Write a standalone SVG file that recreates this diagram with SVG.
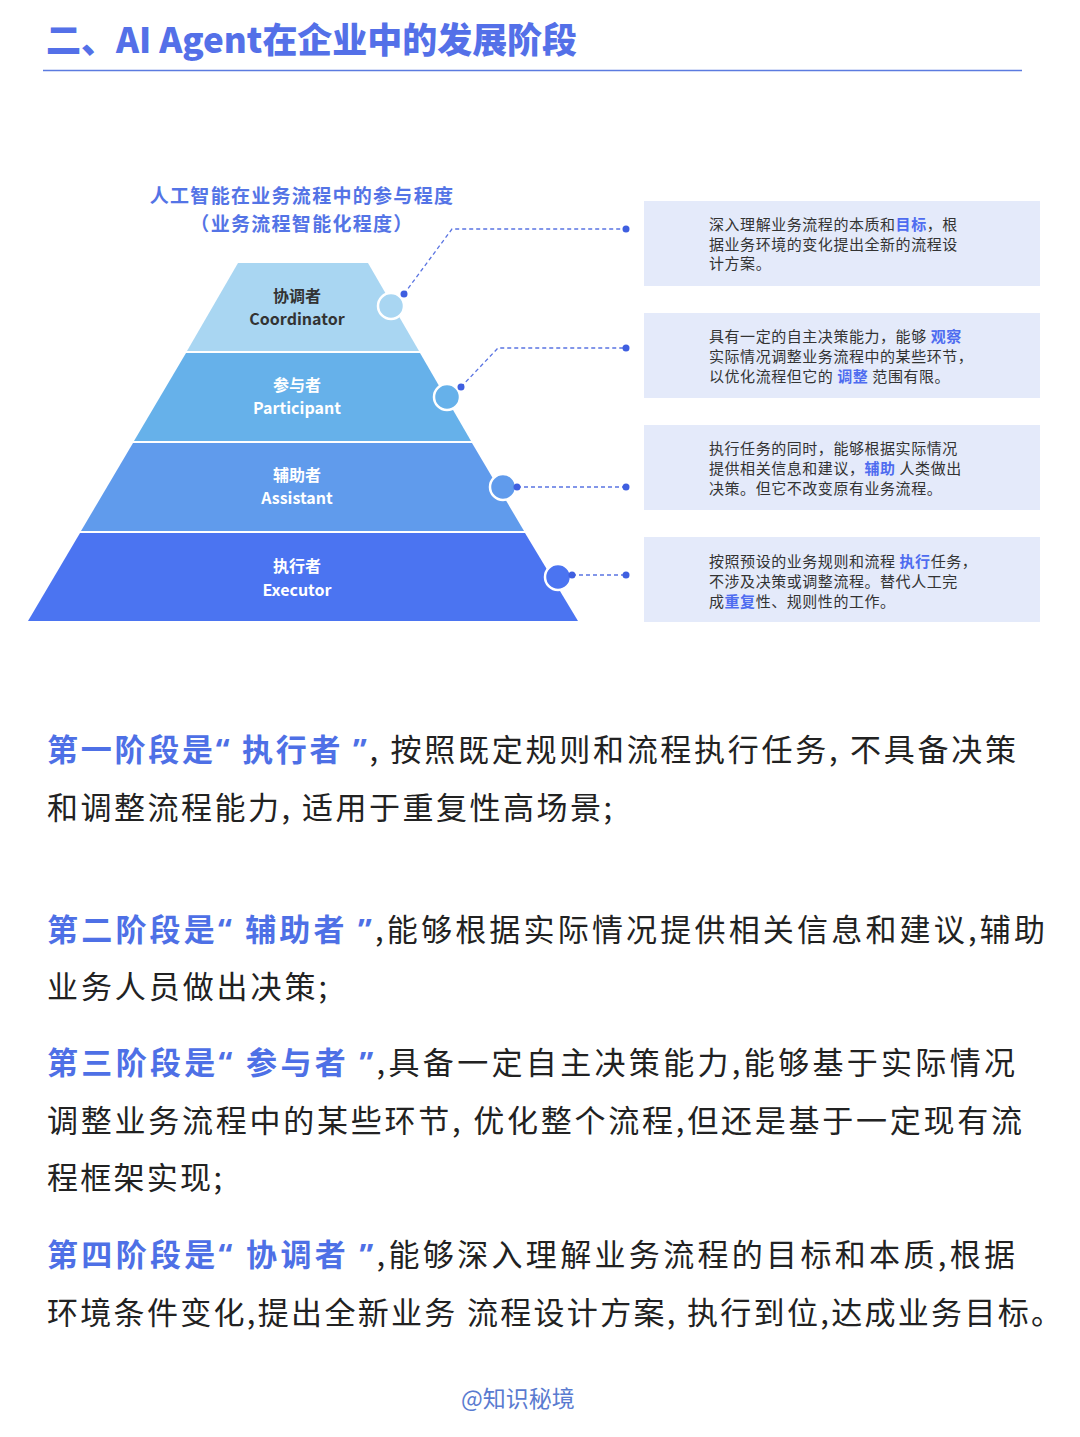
<svg xmlns="http://www.w3.org/2000/svg" width="1080" height="1437" viewBox="0 0 1080 1437">
<style>
.cjk{font-family:"Noto Sans CJK SC","Noto Sans",sans-serif}
.h1{font-size:35px;font-weight:900;fill:#5470E8}
.ptitle{font-size:19px;font-weight:700;fill:#5474E6;letter-spacing:1.3px}
.lay{font-size:16px;font-weight:600;text-anchor:middle}
.box{fill:#E4EAFA}
.bt{font-size:15px;fill:#333;letter-spacing:0.55px}
.hl{fill:#4E6CF0;font-weight:700}
.dash{fill:none;stroke:#5A74E2;stroke-width:1.3;stroke-dasharray:4 3}
.dot{fill:#3F5FE0}
.body{font-size:31px;fill:#222}
.bb{fill:#4E70E6;font-weight:700}
.q{font-family:"Noto Sans","DejaVu Sans",sans-serif}
.foot{font-size:23px;fill:#5A7BD0}
</style>
<rect width="1080" height="1437" fill="#fff"/>
<g id="title">
<text class="cjk h1" x="46" y="53" textLength="531" lengthAdjust="spacingAndGlyphs">二、AI Agent在企业中的发展阶段</text>
<line x1="43" y1="70.5" x2="1022" y2="70.5" stroke="#5B7BE0" stroke-width="1.5"/>
</g>
<g id="pyramid-title">
<text class="cjk ptitle" x="302" y="203" text-anchor="middle">人工智能在业务流程中的参与程度</text>
<text class="cjk ptitle" x="302" y="231" text-anchor="middle">（业务流程智能化程度）</text>
</g>
<g id="layer-coordinator">
<polygon points="238,263 368,263 419,351 187,351" fill="#A9D6F2"/>
<text class="cjk lay" x="297" y="302" fill="#333">协调者</text>
<text class="cjk lay" x="297" y="325" fill="#333">Coordinator</text>
</g>
<g id="layer-participant">
<polygon points="186,353 420,353 471,441 134,441" fill="#66B1EA"/>
<text class="cjk lay" x="297" y="391" fill="#fff">参与者</text>
<text class="cjk lay" x="297" y="414" fill="#fff">Participant</text>
</g>
<g id="layer-assistant">
<polygon points="133,443 472,443 524,531 81,531" fill="#609BEC"/>
<text class="cjk lay" x="297" y="481" fill="#fff">辅助者</text>
<text class="cjk lay" x="297" y="504" fill="#fff">Assistant</text>
</g>
<g id="layer-executor">
<polygon points="80,533 525,533 578,621 28,621" fill="#4B74F1"/>
<text class="cjk lay" x="297" y="572" fill="#fff">执行者</text>
<text class="cjk lay" x="297" y="596" fill="#fff">Executor</text>
</g>
<g id="connectors">
<circle cx="391" cy="306" r="13" fill="#A9D6F2" stroke="#fff" stroke-width="2.5"/>
<circle cx="447" cy="397" r="13" fill="#66B1EA" stroke="#fff" stroke-width="2.5"/>
<circle cx="503" cy="487" r="13" fill="#609BEC" stroke="#fff" stroke-width="2.5"/>
<circle cx="558" cy="577" r="13" fill="#4B74F1" stroke="#fff" stroke-width="2.5"/>
<polyline class="dash" points="404,294 452,229 626,229"/>
<polyline class="dash" points="461,387 498,348 626,348"/>
<polyline class="dash" points="517,487 626,487"/>
<polyline class="dash" points="572,575 626,575"/>
<circle class="dot" cx="404" cy="294" r="3.5"/>
<circle class="dot" cx="626" cy="229" r="3.5"/>
<circle class="dot" cx="461" cy="387" r="3.5"/>
<circle class="dot" cx="626" cy="348" r="3.5"/>
<circle class="dot" cx="517" cy="487" r="3.5"/>
<circle class="dot" cx="626" cy="487" r="3.5"/>
<circle class="dot" cx="572" cy="575" r="3.5"/>
<circle class="dot" cx="626" cy="575" r="3.5"/>
</g>
<g id="box-coordinator">
<rect class="box" x="644" y="201" width="396" height="85"/>
<text class="cjk bt" x="709" y="230">深入理解业务流程的本质和<tspan class="hl">目标</tspan>，根</text>
<text class="cjk bt" x="709" y="249.5">据业务环境的变化提出全新的流程设</text>
<text class="cjk bt" x="709" y="269">计方案。</text>
</g>
<g id="box-participant">
<rect class="box" x="644" y="313" width="396" height="85"/>
<text class="cjk bt" x="709" y="342">具有一定的自主决策能力，能够 <tspan class="hl">观察</tspan></text>
<text class="cjk bt" x="709" y="362">实际情况调整业务流程中的某些环节，</text>
<text class="cjk bt" x="709" y="382">以优化流程但它的 <tspan class="hl">调整</tspan> 范围有限。</text>
</g>
<g id="box-assistant">
<rect class="box" x="644" y="425" width="396" height="85"/>
<text class="cjk bt" x="709" y="454">执行任务的同时，能够根据实际情况</text>
<text class="cjk bt" x="709" y="474">提供相关信息和建议，<tspan class="hl">辅助</tspan> 人类做出</text>
<text class="cjk bt" x="709" y="494">决策。但它不改变原有业务流程。</text>
</g>
<g id="box-executor">
<rect class="box" x="644" y="537" width="396" height="85"/>
<text class="cjk bt" x="709" y="567">按照预设的业务规则和流程 <tspan class="hl">执行</tspan>任务，</text>
<text class="cjk bt" x="709" y="587">不涉及决策或调整流程。替代人工完</text>
<text class="cjk bt" x="709" y="607">成<tspan class="hl">重复</tspan>性、规则性的工作。</text>
</g>
<g id="paragraphs">
<text class="cjk body" x="47" y="761" textLength="969" lengthAdjust="spacing"><tspan class="bb">第一阶段是<tspan class="q">“</tspan> 执行者 <tspan class="q">”</tspan></tspan>, 按照既定规则和流程执行任务, 不具备决策</text>
<text class="cjk body" x="47" y="819" textLength="565" lengthAdjust="spacing">和调整流程能力, 适用于重复性高场景;</text>
<text class="cjk body" x="47" y="941" textLength="998" lengthAdjust="spacing"><tspan class="bb">第二阶段是<tspan class="q">“</tspan> 辅助者 <tspan class="q">”</tspan></tspan>,能够根据实际情况提供相关信息和建议,辅助</text>
<text class="cjk body" x="47" y="998" textLength="280" lengthAdjust="spacing">业务人员做出决策;</text>
<text class="cjk body" x="47" y="1074" textLength="968" lengthAdjust="spacing"><tspan class="bb">第三阶段是<tspan class="q">“</tspan> 参与者 <tspan class="q">”</tspan></tspan>,具备一定自主决策能力,能够基于实际情况</text>
<text class="cjk body" x="47" y="1132" textLength="975" lengthAdjust="spacing">调整业务流程中的某些环节, 优化整个流程,但还是基于一定现有流</text>
<text class="cjk body" x="47" y="1189" textLength="175" lengthAdjust="spacing">程框架实现;</text>
<text class="cjk body" x="47" y="1266" textLength="968" lengthAdjust="spacing"><tspan class="bb">第四阶段是<tspan class="q">“</tspan> 协调者 <tspan class="q">”</tspan></tspan>,能够深入理解业务流程的目标和本质,根据</text>
<text class="cjk body" x="47" y="1324" textLength="1015" lengthAdjust="spacing">环境条件变化,提出全新业务 流程设计方案, 执行到位,达成业务目标。</text>
</g>
<g id="footer">
<text class="cjk foot" x="518" y="1407" text-anchor="middle">@知识秘境</text>
</g>
</svg>
